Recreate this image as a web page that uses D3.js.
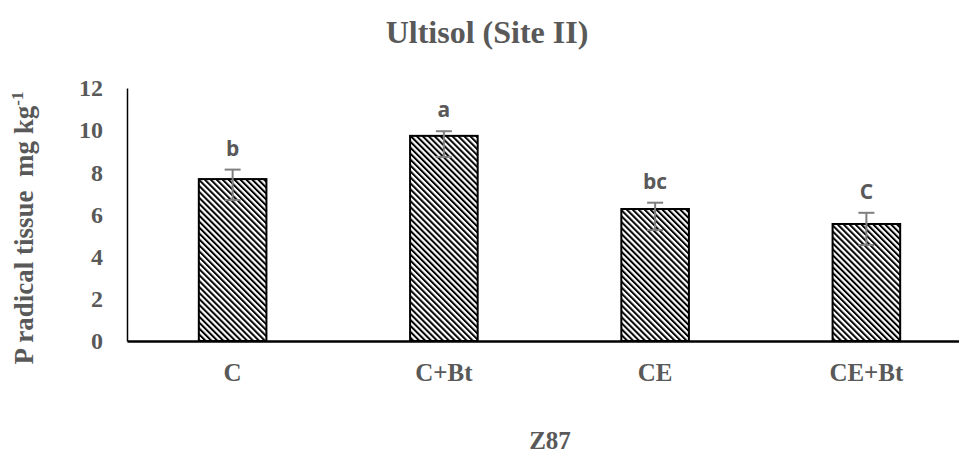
<!DOCTYPE html>
<html>
<head>
<meta charset="utf-8">
<script src="https://cdn.jsdelivr.net/npm/d3@7"></script>
<style>
  body { margin: 0; background: #fff; }
  svg { display: block; }
</style>
</head>
<body>
<div id="chart"></div>
<script>
const categories = ['C', 'C+Bt', 'CE', 'CE+Bt'];
const values = [7.68, 9.73, 6.26, 5.55];
const errPlus = [0.45, 0.22, 0.3, 0.53];
const errMinus = [1.0, 1.0, 1.0, 1.0];
const letters = ['b', 'a', 'bc', 'C'];
const yTicks = [0, 2, 4, 6, 8, 10, 12];

const width = 959;
const height = 455;
const grey = '#595959';
const serif = '"Liberation Serif", "Times New Roman", serif';

const svg = d3.select('#chart').append('svg').attr('width', width).attr('height', height);

// hatch pattern, downward diagonal
const defs = svg.append('defs');
const pat = defs
  .append('pattern')
  .attr('id', 'hatch')
  .attr('patternUnits', 'userSpaceOnUse')
  .attr('width', 4.2)
  .attr('height', 4.2)
  .attr('patternTransform', 'rotate(-45)');
pat.append('rect').attr('width', 4.2).attr('height', 4.2).attr('fill', '#fff');
pat.append('rect').attr('x', 0).attr('y', 0).attr('width', 2).attr('height', 4.2).attr('fill', '#000');

const x = d3.scaleBand().domain(categories).range([127, 972]).paddingInner(0.68).paddingOuter(0.34);
const y = d3.scaleLinear().domain([0, 12]).range([341, 88]);

/* Title
=========================================================================*/
svg
  .append('text')
  .attr('x', 487)
  .attr('y', 43)
  .attr('text-anchor', 'middle')
  .attr('font-family', serif)
  .attr('font-weight', 'bold')
  .attr('font-size', 32)
  .attr('fill', grey)
  .text('Ultisol (Site II)');

/* Y Axis
=========================================================================*/
const yAxis = svg
  .append('g')
  .attr('transform', 'translate(127,0)')
  .call(d3.axisLeft(y).tickValues(yTicks).tickSize(0).tickPadding(24));
yAxis.select('.domain').attr('stroke', '#000').attr('stroke-width', 1.5);
yAxis
  .selectAll('text')
  .attr('font-family', serif)
  .attr('font-weight', 'bold')
  .attr('font-size', 24)
  .attr('fill', grey);

const yTitle = svg
  .append('text')
  .attr('transform', 'translate(33,228) rotate(-90)')
  .attr('text-anchor', 'middle')
  .attr('font-family', serif)
  .attr('font-weight', 'bold')
  .attr('font-size', 27)
  .attr('fill', grey);
yTitle.append('tspan').text('P radical tissue\u00a0\u00a0mg kg');
yTitle.append('tspan').attr('font-size', 17).attr('dy', -10).text('-1');

/* Bars
=========================================================================*/
svg
  .selectAll('rect.bar')
  .data(categories)
  .enter()
  .append('rect')
  .attr('class', 'bar')
  .attr('x', (d) => x(d))
  .attr('y', (d, i) => y(values[i]))
  .attr('width', x.bandwidth())
  .attr('height', (d, i) => y(0) - y(values[i]))
  .attr('fill', 'url(#hatch)')
  .attr('stroke', '#000')
  .attr('stroke-width', 2);

/* X Axis
=========================================================================*/
const xAxis = svg
  .append('g')
  .attr('transform', `translate(0,${y(0)})`)
  .call(d3.axisBottom(x).tickSize(0).tickPadding(22));
xAxis.select('.domain').attr('stroke', '#000').attr('stroke-width', 2.5);
xAxis
  .selectAll('text')
  .attr('font-family', serif)
  .attr('font-weight', 'bold')
  .attr('font-size', 25)
  .attr('fill', grey);

svg
  .append('text')
  .attr('x', 550)
  .attr('y', 449)
  .attr('text-anchor', 'middle')
  .attr('font-family', serif)
  .attr('font-weight', 'bold')
  .attr('font-size', 25)
  .attr('fill', grey)
  .text('Z87');

/* Error bars and letters
=========================================================================*/
const cx = (d) => x(d) + x.bandwidth() / 2;
const err = svg.append('g').attr('stroke', '#7f7f7f').attr('stroke-width', 2);
categories.forEach((d, i) => {
  const top = y(values[i] + errPlus[i]);
  const bot = y(values[i] - errMinus[i]);
  err.append('line').attr('x1', cx(d)).attr('x2', cx(d)).attr('y1', top).attr('y2', bot);
  err.append('line').attr('x1', cx(d) - 8).attr('x2', cx(d) + 8).attr('y1', top).attr('y2', top);
  err.append('line').attr('x1', cx(d) - 8).attr('x2', cx(d) + 8).attr('y1', bot).attr('y2', bot);
});

svg
  .selectAll('text.letter')
  .data(categories)
  .enter()
  .append('text')
  .attr('class', 'letter')
  .attr('x', cx)
  .attr('y', (d, i) => y(values[i] + errPlus[i]) - 14)
  .attr('text-anchor', 'middle')
  .attr('font-family', '"Open Sans", "Liberation Sans", sans-serif')
  .attr('font-weight', 'bold')
  .attr('font-size', 21)
  .attr('fill', grey)
  .text((d, i) => letters[i]);
</script>
</body>
</html>
